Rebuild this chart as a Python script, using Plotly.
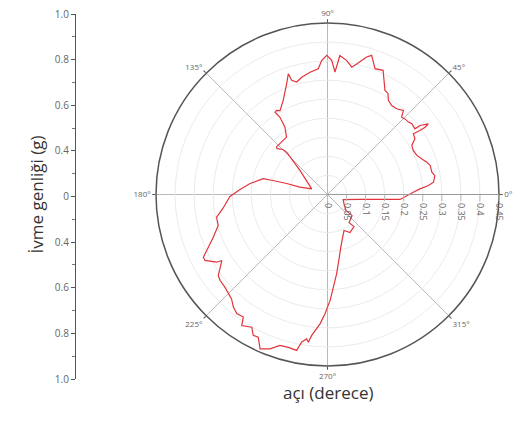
import plotly.graph_objects as go

# Polar data: radius (g) and angle (degrees)
r_vals = [0.224, 0.243, 0.266, 0.280, 0.286, 0.280, 0.280, 0.274, 0.264, 0.256,
          0.253, 0.256, 0.272, 0.276, 0.295, 0.311, 0.323, 0.303, 0.287, 0.289,
          0.285, 0.284, 0.281, 0.297, 0.289, 0.288, 0.294, 0.309, 0.312, 0.357,
          0.353, 0.383, 0.375, 0.351, 0.340, 0.355, 0.366, 0.322, 0.352, 0.365,
          0.352, 0.331, 0.324, 0.315, 0.306, 0.314, 0.333, 0.310, 0.273, 0.253,
          0.258, 0.256, 0.238, 0.209, 0.185, 0.183, 0.179, 0.166, 0.153, 0.096,
          0.044, 0.075, 0.111, 0.148, 0.174, 0.205, 0.230, 0.256, 0.277, 0.297,
          0.298, 0.320, 0.342, 0.365, 0.365, 0.341, 0.327, 0.357, 0.361, 0.363,
          0.372, 0.385, 0.393, 0.390, 0.411, 0.401, 0.418, 0.416, 0.442, 0.432,
          0.415, 0.414, 0.417, 0.393, 0.383, 0.391, 0.372, 0.340, 0.313, 0.278,
          0.244, 0.209, 0.167, 0.143, 0.119, 0.104, 0.116, 0.109, 0.093, 0.085,
          0.064, 0.049, 0.043, 0.086, 0.138, 0.191, 0.224]
theta_vals = [1.3, 3.5, 5.1, 6.6, 10.0, 12.1, 15.8, 18.0, 20.8, 23.6,
              27.2, 30.2, 32.5, 35.3, 34.7, 34.6, 35.0, 36.7, 36.9, 40.0,
              41.8, 44.3, 46.2, 47.9, 51.1, 54.2, 57.1, 59.1, 61.1, 65.9,
              69.3, 72.4, 74.1, 77.4, 79.2, 81.8, 84.9, 86.5, 88.2, 90.3,
              92.5, 94.2, 98.1, 102.4, 105.3, 107.4, 108.0, 110.2, 115.2, 119.5,
              121.2, 122.5, 121.6, 122.3, 125.5, 137.0, 137.7, 134.7, 134.0, 138.9,
              160.2, 165.1, 164.9, 165.6, 166.1, 171.9, 176.7, 181.2, 187.6, 191.6,
              195.8, 200.5, 203.9, 206.8, 208.3, 211.4, 212.0, 216.6, 218.7, 222.2,
              227.4, 230.1, 232.7, 235.5, 236.8, 240.3, 242.2, 244.1, 246.4, 249.6,
              252.5, 255.6, 258.8, 260.1, 261.8, 262.6, 263.6, 266.7, 268.8, 271.4,
              273.6, 276.6, 280.7, 284.1, 289.6, 294.6, 300.6, 309.6, 307.5, 319.4,
              319.1, 331.4, 342.1, 351.3, 354.6, 356.1, 361.3]

radial_ticks = [0, 0.05, 0.1, 0.15, 0.2, 0.25, 0.3, 0.35, 0.4, 0.45]
radial_labels = ["0", "0.05", "0.1", "0.15", "0.2", "0.25", "0.3", "0.35", "0.4", "0.45"]
angle_ticks = [0, 45, 90, 135, 180, 225, 270, 315]

left_tick_pos = [0, 1, 2, 3, 4, 5, 6, 7, 8]
left_tick_labels = ["1.0", "0.8", "0.6", "0.4", "0", "0.4", "0.6", "0.8", "1.0"]

fig = go.Figure()
fig.add_trace(go.Scatterpolar(
    r=r_vals, theta=theta_vals, mode="lines",
    line=dict(color="#e3343c", width=1.2), showlegend=False, hoverinfo="skip"))

# invisible trace to create the left decorative amplitude axis
fig.add_trace(go.Scatter(x=[0, 1], y=[0, 8], mode="markers",
                         marker=dict(opacity=0), showlegend=False,
                         hoverinfo="skip", xaxis="x", yaxis="y"))

# page body has an 8px margin: figure is sized to fit the window
OFF = 8
W, H = 526 - 2 * OFF, 427 - 2 * OFF


def px(x):
    return (x - OFF) / W


def py(y):
    return 1 - (y - OFF) / H


cx, cy, R = 327.5, 194.5, 171.5

fig.update_layout(
    width=W, height=H,
    margin=dict(l=0, r=0, t=0, b=0, autoexpand=False),
    paper_bgcolor="white", plot_bgcolor="white",
    font=dict(family="Open Sans, DejaVu Sans, sans-serif", color="#444"),
    polar=dict(
        domain=dict(x=[px(cx - R), px(cx + R)], y=[py(cy + R), py(cy - R)]),
        bgcolor="white",
        radialaxis=dict(
            range=[0, 0.45], tickvals=radial_ticks, ticktext=radial_labels,
            angle=0, tickangle=90, showline=True, linecolor="#9a9a9a", linewidth=1.2,
            gridcolor="#ebebeb", gridwidth=1, ticks="outside", ticklen=6,
            tickcolor="#bbbbbb", tickfont=dict(size=9, color="#666"),
        ),
        angularaxis=dict(
            rotation=0, direction="counterclockwise", tickvals=angle_ticks,
            ticktext=[f"{a}°" for a in angle_ticks],
            showline=True, linecolor="#555", linewidth=1.5,
            gridcolor="#b8b8b8", gridwidth=1, ticks="outside", ticklen=3,
            tickcolor="#555", tickfont=dict(size=8, color="#666"),
        ),
    ),
    xaxis=dict(domain=[px(76), px(80)], visible=False, range=[0, 1], fixedrange=True),
    yaxis=dict(
        domain=[py(379), py(14)], range=[0, 8], anchor="x",
        tickvals=left_tick_pos, ticktext=left_tick_labels, ticklabeloverflow="allow",
        showline=True, linecolor="#555", linewidth=1.2, showgrid=False,
        zeroline=False, ticks="outside", ticklen=4, tickcolor="#555",
        tickfont=dict(size=10, color="#666"),
        minor=dict(tickvals=[0.5, 1.5, 2.5, 3.5, 4.5, 5.5, 6.5, 7.5],
                   ticks="outside", ticklen=2.5, tickcolor="#777"),
    ),
    annotations=[
        dict(text="İvme genliği (g)", x=px(22), y=py(195), xref="paper", yref="paper",
             textangle=-90, showarrow=False, font=dict(size=17, color="#333")),
        dict(text="açı (derece)", x=px(cx), y=py(406), xref="paper", yref="paper",
             showarrow=False, font=dict(size=17, color="#333")),
    ],
)

fig.write_html("out.html")
